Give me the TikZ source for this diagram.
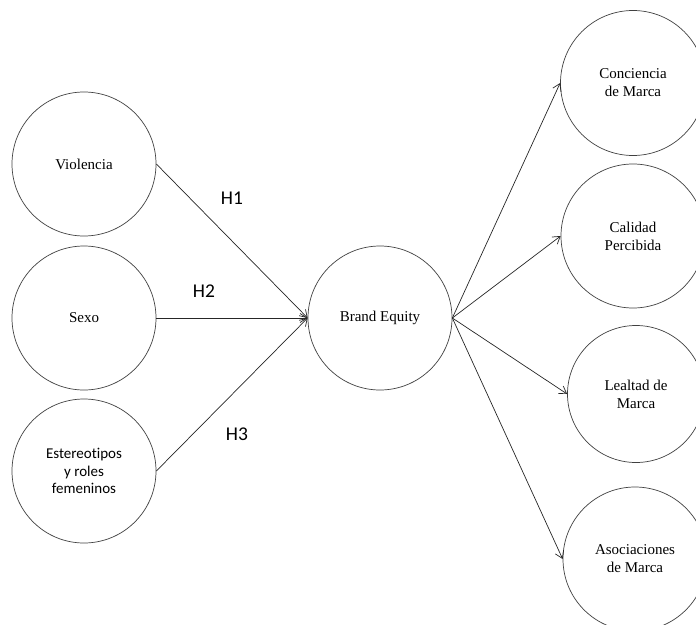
\documentclass[tikz,border=0pt]{standalone}
\usepackage{fontspec}
\setmainfont{Liberation Serif}
\newfontfamily\hfont[Ligatures=NoCommon]{Carlito}
\usepackage{tikz}
\usetikzlibrary{positioning, arrows, arrows.meta}

\begin{document}
\begin{tikzpicture}[x=1pt, y=-1pt,
  construct/.style={draw=black!75, line width=0.7pt, circle, minimum size=144pt,
    inner sep=0pt, align=center, font=\fontsize{15}{18}\selectfont},
  path/.style={draw=black!85, line width=0.7pt, -{Straight Barb[length=7pt, width=9pt]}},
  hyp/.style={font=\hfont\fontsize{19.5}{22}\selectfont}]

\useasboundingbox (0,0) rectangle (696,624);
\clip (0,0) rectangle (696,624);

% --- Exogenous constructs ---
\node[construct] (vio) at (84,164) {Violencia};
\node[construct] (sex) at (84,318) {Sexo};
\node[construct, font=\hfont\fontsize{15}{17.5}\selectfont] (est) at (84,471) {Estereotipos\\y roles\\femeninos};

% --- Brand Equity ---
\node[construct] (be) at (380,318) {Brand Equity};

% --- Dimensions ---
\node[construct, minimum size=145pt] (con) at (633,83) {Conciencia\\de Marca};
\node[construct] (cal) at (633,236) {Calidad\\Percibida};
\node[construct, minimum size=137pt] (lea) at (636,394) {Lealtad de\\Marca};
\node[construct] (aso) at (635,559) {Asociaciones\\de Marca};

% --- Hypotheses ---
\draw[path] (vio.east) -- (be.west);
\draw[path] (sex.east) -- (be.west);
\draw[path] (est.east) -- (be.west);
\node[hyp] (h1) at (232,198) {H1};
\node[hyp] (h2) at (204,291) {H2};
\node[hyp] (h3) at (237,434) {H3};

% --- Brand Equity to dimensions ---
\draw[path] (be.east) -- (con.west);
\draw[path] (be.east) -- (cal.west);
\draw[path] (be.east) -- (lea.west);
\draw[path] (be.east) -- (aso.west);

\end{tikzpicture}
\end{document}
